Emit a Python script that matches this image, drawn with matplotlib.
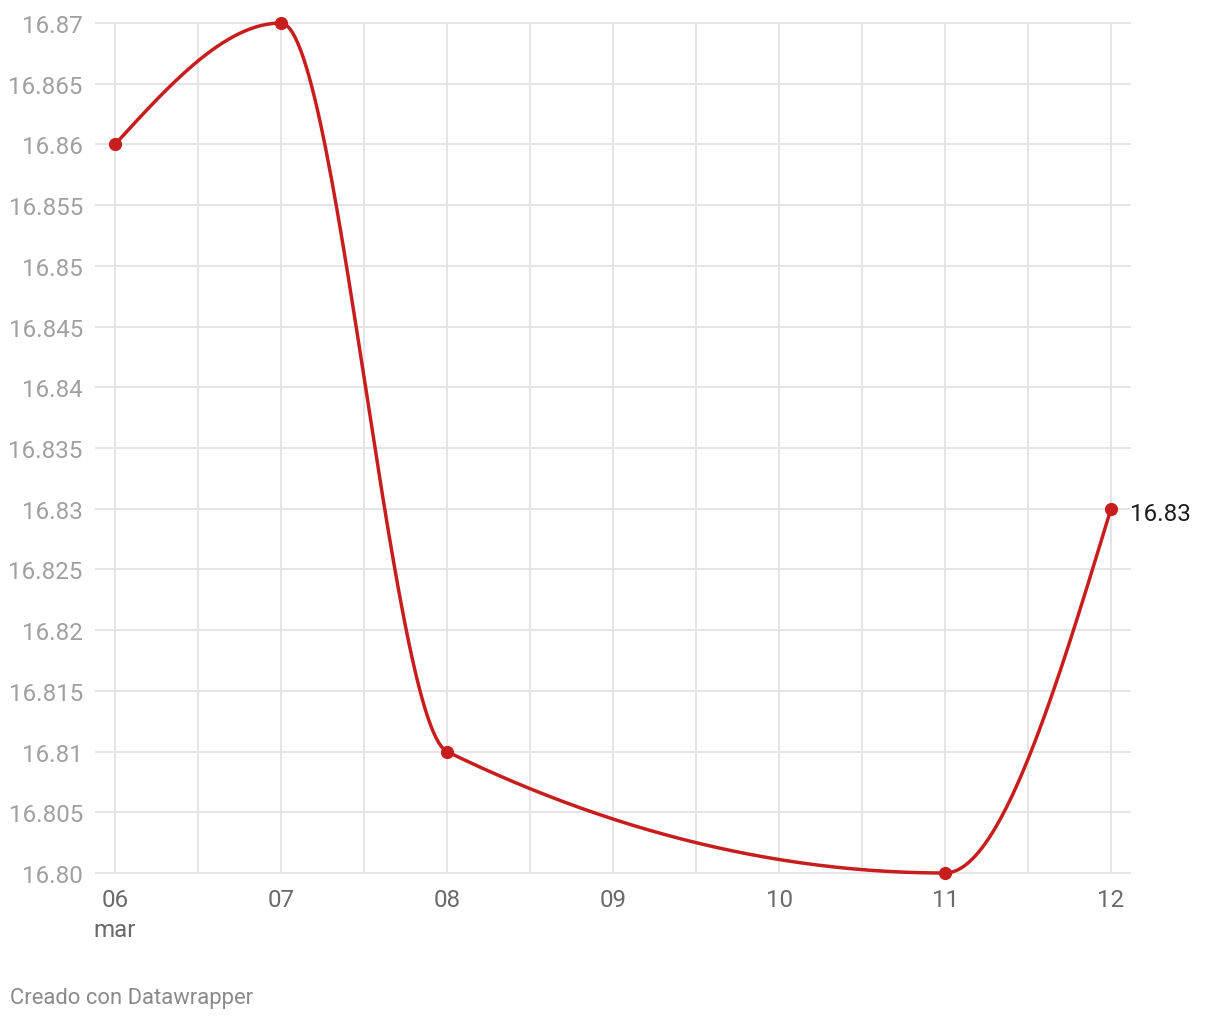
import numpy as np
import matplotlib
matplotlib.use("Agg")
import matplotlib.pyplot as plt

plt.rcParams['font.family'] = ['Roboto', 'DejaVu Sans']

# ---- data ----
days = [6, 7, 8, 11, 12]
values = [16.86, 16.87, 16.81, 16.80, 16.83]
x_tick_labels = ["06\nmar", "07", "08", "09", "10", "11", "12"]
x_tick_pos = [6, 7, 8, 9, 10, 11, 12]
y_ticks = [16.80, 16.805, 16.81, 16.815, 16.82, 16.825, 16.83, 16.835,
           16.84, 16.845, 16.85, 16.855, 16.86, 16.865, 16.87]
y_tick_labels = ["16.80", "16.805", "16.81", "16.815", "16.82", "16.825", "16.83",
                 "16.835", "16.84", "16.845", "16.85", "16.855", "16.86", "16.865", "16.87"]
last_label = "16.83"
credit = "Creado con Datawrapper"

RED = "#c71e1d"


def monotone_x(xs, ys, n=60):
    """d3.curveMonotoneX-style path through the points."""
    xs = np.asarray(xs, float)
    ys = np.asarray(ys, float)
    m = len(xs)
    h = np.diff(xs)
    s = np.diff(ys) / h
    t = np.zeros(m)
    for i in range(1, m - 1):
        h0, h1 = h[i - 1], h[i]
        s0, s1 = s[i - 1], s[i]
        p = (s0 * h1 + s1 * h0) / (h0 + h1)
        t[i] = (np.sign(s0) + np.sign(s1)) * min(abs(s0), abs(s1), 0.5 * abs(p))
    t[0] = (3 * s[0] - t[1]) / 2
    t[-1] = (3 * s[-1] - t[-2]) / 2
    px, py = [], []
    for i in range(m - 1):
        x0, x1 = xs[i], xs[i + 1]
        y0, y1 = ys[i], ys[i + 1]
        dx = (x1 - x0) / 3
        cx = [x0, x0 + dx, x1 - dx, x1]
        cy = [y0, y0 + dx * t[i], y1 - dx * t[i + 1], y1]
        u = np.linspace(0, 1, n)
        b = [(1 - u) ** 3, 3 * (1 - u) ** 2 * u, 3 * (1 - u) * u ** 2, u ** 3]
        px.append(sum(bb * c for bb, c in zip(b, cx)))
        py.append(sum(bb * c for bb, c in zip(b, cy)))
    return np.concatenate(px), np.concatenate(py)


W, H = 1220, 1020
fig = plt.figure(figsize=(W / 100, H / 100), dpi=100)
ax = fig.add_axes([96 / W, (H - 874) / H, (1130 - 96) / W, (874 - 24) / H])

half = 19 / 166
ax.set_xlim(6 - half, 12 + half)
ax.set_ylim(16.80, 16.87)

for v in np.arange(6, 12.01, 0.5):
    ax.axvline(v, color="#e5e5e5", lw=1.4, zorder=0)
for v in y_ticks:
    ax.axhline(v, color="#e5e5e5", lw=1.4, zorder=0, clip_on=False)

cx, cy = monotone_x(days, values)
ax.plot(cx, cy, color=RED, lw=2.5, zorder=3, solid_capstyle="round", clip_on=False)
ax.plot(days, values, "o", color=RED, ms=8.5, zorder=4, clip_on=False)

ax.set_xticks(x_tick_pos)
ax.set_xticklabels(x_tick_labels, fontsize=17.4, color="#6a6a6a", linespacing=1.4)
ax.set_yticks(y_ticks)
ax.set_yticklabels(y_tick_labels, fontsize=17.4, color="#a0a0a0")
ax.tick_params(axis="both", length=0)
ax.tick_params(axis="x", pad=10.5)
ax.tick_params(axis="y", pad=9.5)
for sp in ax.spines.values():
    sp.set_visible(False)

ax.annotate(last_label, xy=(days[-1], values[-1]), xytext=(14, -3.5),
            textcoords="offset points", fontsize=17.4, color="#1d1d1d",
            va="center", ha="left", annotation_clip=False)

fig.text(10 / W, 1 - 999 / H, credit, fontsize=15.8, color="#8a8a8a",
         ha="left", va="center")

fig.savefig("out.png", dpi=100, facecolor="white")
